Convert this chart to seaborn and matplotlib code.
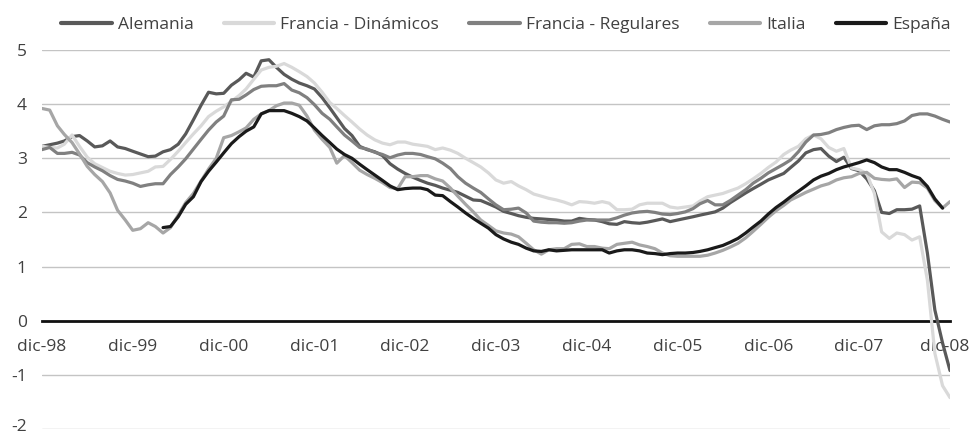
import matplotlib
matplotlib.use("Agg")
import matplotlib.pyplot as plt
import matplotlib.transforms as mtransforms
import pandas as pd
import seaborn as sns

# Tasas mensuales (%), diciembre 1998 - diciembre 2008
series = ["Alemania", "Francia - Dinámicos", "Francia - Regulares", "Italia", "España"]
colores = ["#595959", "#d9d9d9", "#808080", "#a6a6a6", "#1a1a1a"]

inicio = "1998-12-01"
inicio_espana = "2000-04-01"

alemania = [
    3.22, 3.25, 3.28, 3.32, 3.40, 3.42, 3.32, 3.21, 3.23, 3.32,
    3.21, 3.18, 3.13, 3.08, 3.03, 3.04, 3.12, 3.16, 3.26, 3.45,
    3.71, 3.98, 4.22, 4.19, 4.20, 4.35, 4.45, 4.57, 4.50, 4.80,
    4.82, 4.68, 4.55, 4.46, 4.39, 4.34, 4.28, 4.12, 3.93, 3.75,
    3.55, 3.42, 3.22, 3.16, 3.12, 3.05, 2.90, 2.80, 2.72, 2.65,
    2.59, 2.54, 2.50, 2.45, 2.41, 2.37, 2.30, 2.23, 2.22, 2.16,
    2.10, 2.02, 1.98, 1.94, 1.91, 1.89, 1.88, 1.87, 1.86, 1.84,
    1.84, 1.89, 1.87, 1.86, 1.83, 1.79, 1.78, 1.83, 1.81, 1.80,
    1.82, 1.85, 1.88, 1.83, 1.86, 1.89, 1.92, 1.95, 1.98, 2.01,
    2.08, 2.18, 2.27, 2.36, 2.44, 2.52, 2.60, 2.66, 2.72, 2.83,
    2.95, 3.10, 3.16, 3.18, 3.04, 2.94, 3.02, 2.81, 2.77, 2.62,
    2.40, 2.00, 1.98, 2.05, 2.05, 2.06, 2.12, 1.25, 0.20, -0.41,
    -0.92,
]

francia_dinamicos = [
    3.22, 3.20, 3.19, 3.26, 3.43, 3.22, 3.02, 2.90, 2.83, 2.76,
    2.72, 2.69, 2.70, 2.73, 2.76, 2.84, 2.85, 2.98, 3.13, 3.29,
    3.45, 3.60, 3.77, 3.87, 3.95, 4.05, 4.16, 4.28, 4.46, 4.63,
    4.68, 4.70, 4.75, 4.68, 4.60, 4.51, 4.39, 4.22, 4.03, 3.92,
    3.79, 3.67, 3.54, 3.43, 3.34, 3.28, 3.25, 3.30, 3.30, 3.26,
    3.24, 3.22, 3.16, 3.19, 3.15, 3.09, 3.00, 2.92, 2.84, 2.73,
    2.60, 2.54, 2.57, 2.49, 2.42, 2.34, 2.30, 2.26, 2.23, 2.19,
    2.14, 2.20, 2.19, 2.17, 2.20, 2.17, 2.05, 2.05, 2.06, 2.14,
    2.17, 2.17, 2.17, 2.10, 2.08, 2.10, 2.12, 2.21, 2.29, 2.32,
    2.35, 2.40, 2.45, 2.53, 2.62, 2.72, 2.83, 2.93, 3.07, 3.15,
    3.22, 3.36, 3.43, 3.36, 3.20, 3.13, 3.18, 2.82, 2.79, 2.72,
    2.35, 1.64, 1.52, 1.62, 1.59, 1.49, 1.55, 0.75, -0.60, -1.20,
    -1.42,
]

francia_regulares = [
    3.16, 3.20, 3.09, 3.09, 3.11, 3.06, 2.92, 2.84, 2.77, 2.68,
    2.61, 2.58, 2.54, 2.48, 2.51, 2.53, 2.53, 2.70, 2.84, 2.99,
    3.17, 3.35, 3.52, 3.67, 3.78, 4.08, 4.09, 4.17, 4.27, 4.33,
    4.34, 4.34, 4.38, 4.26, 4.21, 4.12, 3.99, 3.83, 3.72, 3.58,
    3.43, 3.32, 3.20, 3.17, 3.11, 3.07, 3.01, 3.06, 3.09, 3.09,
    3.07, 3.03, 2.99, 2.91, 2.81, 2.66, 2.54, 2.45, 2.37, 2.25,
    2.14, 2.05, 2.06, 2.08, 1.99, 1.84, 1.82, 1.81, 1.81, 1.80,
    1.81, 1.84, 1.86, 1.86, 1.86, 1.86, 1.90, 1.95, 1.99, 2.01,
    2.02, 2.00, 1.97, 1.96, 1.98, 2.01, 2.07, 2.16, 2.22, 2.14,
    2.14, 2.22, 2.32, 2.42, 2.54, 2.63, 2.73, 2.81, 2.89, 2.97,
    3.12, 3.30, 3.43, 3.44, 3.47, 3.53, 3.57, 3.60, 3.61, 3.53,
    3.60, 3.62, 3.62, 3.64, 3.69, 3.79, 3.82, 3.82, 3.78, 3.72,
    3.67,
]

italia = [
    3.92, 3.89, 3.60, 3.44, 3.29, 3.08, 2.85, 2.70, 2.57, 2.36,
    2.04, 1.86, 1.67, 1.70, 1.81, 1.74, 1.62, 1.72, 1.95, 2.18,
    2.35, 2.58, 2.80, 3.00, 3.38, 3.42, 3.49, 3.56, 3.72, 3.82,
    3.88, 3.97, 4.02, 4.02, 3.98, 3.78, 3.52, 3.35, 3.20, 2.91,
    3.05, 2.92, 2.78, 2.70, 2.63, 2.55, 2.46, 2.44, 2.66, 2.66,
    2.68, 2.68, 2.62, 2.58, 2.45, 2.30, 2.15, 2.01, 1.86, 1.76,
    1.66, 1.62, 1.60, 1.55, 1.43, 1.31, 1.23, 1.31, 1.33, 1.33,
    1.41, 1.42, 1.37, 1.37, 1.34, 1.33, 1.41, 1.43, 1.45, 1.40,
    1.37, 1.33, 1.25, 1.20, 1.19, 1.19, 1.19, 1.19, 1.21, 1.25,
    1.30, 1.36, 1.43, 1.53, 1.65, 1.78, 1.91, 2.03, 2.13, 2.23,
    2.30, 2.37, 2.43, 2.49, 2.53, 2.60, 2.64, 2.66, 2.72, 2.74,
    2.63, 2.61, 2.60, 2.62, 2.46, 2.56, 2.55, 2.45, 2.22, 2.08,
    2.20,
]

espana = [
    1.72, 1.74, 1.92, 2.15,
    2.29, 2.57, 2.76, 2.93, 3.10, 3.27, 3.40, 3.50, 3.58, 3.82,
    3.88, 3.88, 3.88, 3.83, 3.77, 3.69, 3.56, 3.42, 3.29, 3.17,
    3.07, 3.00, 2.89, 2.79, 2.69, 2.59, 2.49, 2.42, 2.44, 2.45,
    2.45, 2.42, 2.32, 2.31, 2.20, 2.10, 1.99, 1.89, 1.80, 1.71,
    1.59, 1.51, 1.45, 1.41, 1.34, 1.29, 1.28, 1.31, 1.29, 1.30,
    1.31, 1.31, 1.31, 1.31, 1.31, 1.25, 1.29, 1.31, 1.31, 1.29,
    1.25, 1.24, 1.22, 1.24, 1.25, 1.25, 1.26, 1.28, 1.31, 1.35,
    1.39, 1.45, 1.52, 1.62, 1.73, 1.84, 1.97, 2.09, 2.19, 2.29,
    2.39, 2.49, 2.60, 2.67, 2.72, 2.79, 2.84, 2.88, 2.92, 2.97,
    2.92, 2.84, 2.79, 2.79, 2.74, 2.68, 2.63, 2.48, 2.25, 2.08,
]

etiquetas_x = ["dic-98", "dic-99", "dic-00", "dic-01", "dic-02", "dic-03",
               "dic-04", "dic-05", "dic-06", "dic-07", "dic-08"]
ticks_y = [-2, -1, 0, 1, 2, 3, 4, 5]

# Tabla larga para seaborn
valores = [alemania, francia_dinamicos, francia_regulares, italia, espana]
comienzos = [inicio, inicio, inicio, inicio, inicio_espana]
partes = []
for nombre, vals, ini in zip(series, valores, comienzos):
    fechas = pd.date_range(ini, periods=len(vals), freq="MS")
    partes.append(pd.DataFrame({"fecha": fechas, "valor": vals, "serie": nombre}))
df = pd.concat(partes, ignore_index=True)

sns.set_theme(style="white")
plt.rcParams["font.family"] = ["Open Sans", "DejaVu Sans"]

W, H = 972, 434
fig = plt.figure(figsize=(W / 100, H / 100), dpi=100)
ax = fig.add_axes([42 / W, 1 - 429 / H, 908 / W, 379 / H])

sns.lineplot(data=df, x="fecha", y="valor", hue="serie", hue_order=series,
             palette=dict(zip(series, colores)), linewidth=2.3, ax=ax,
             estimator=None, sort=False)

ticks_x = pd.date_range("1998-12-01", periods=len(etiquetas_x), freq="12MS")
ax.set_xlim(ticks_x[0], ticks_x[-1])
ax.set_ylim(ticks_y[0], ticks_y[-1])
ax.set_xticks(ticks_x)
ax.set_xticklabels(etiquetas_x)
ax.set_yticks(ticks_y)
ax.set_yticklabels([str(v) for v in ticks_y])
ax.set_xlabel("")
ax.set_ylabel("")

ax.yaxis.grid(True, color="#c4c4c4", linewidth=1.0)
ax.xaxis.grid(False)
ax.set_axisbelow(True)

for lado in ("top", "right", "left"):
    ax.spines[lado].set_visible(False)
ax.spines["bottom"].set_position(("data", 0))
ax.spines["bottom"].set_color("#111111")
ax.spines["bottom"].set_linewidth(2.0)
ax.spines["bottom"].set_zorder(1.5)

tam = 12.5
ax.tick_params(axis="x", length=0, pad=13.5, labelsize=tam, labelcolor="#404040")
ax.tick_params(axis="y", length=0, pad=11, labelsize=tam, labelcolor="#404040")


def desplazar(texto, dx, dy):
    texto.set_transform(texto.get_transform() +
                        mtransforms.ScaledTranslation(dx / 100, dy / 100, fig.dpi_scale_trans))


# Las etiquetas de los extremos se acercan un poco al interior de la figura
desplazar(ax.get_yticklabels()[0], 0, 4)
desplazar(ax.get_xticklabels()[-1], -5, 0)

sns.move_legend(ax, "center", bbox_to_anchor=(0.511, 1.066), ncol=5,
                frameon=False, title=None, fontsize=tam, handlelength=2.9,
                handletextpad=0.35, columnspacing=1.75, labelcolor="#404040")
for linea in ax.get_legend().get_lines():
    linea.set_linewidth(3.0)

fig.savefig("out.png", dpi=100)
